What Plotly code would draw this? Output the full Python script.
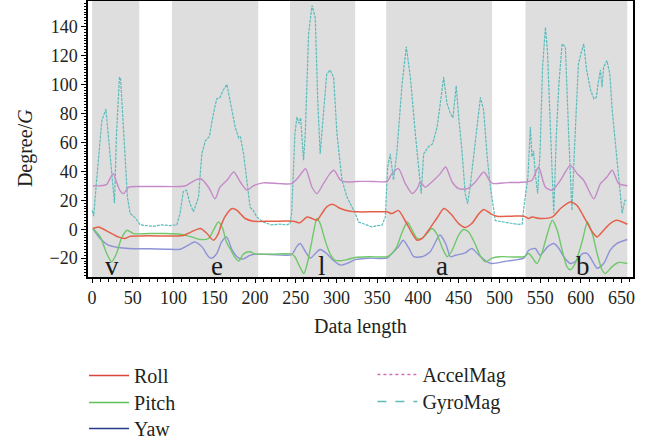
import plotly.graph_objects as go

# ---------------- data ----------------
roll_x = [1, 8, 20, 32, 40, 47, 60, 80, 100, 112, 122, 133, 141, 149, 155, 158, 163, 172, 178, 188, 198, 220, 247, 255, 264, 270, 276, 282, 288, 295, 305, 315, 325, 345, 362, 368, 376, 384, 393, 399, 405, 413, 423, 432, 440, 450, 458, 466, 475, 481, 489, 497, 515, 530, 536, 540, 550, 565, 575, 587, 595, 606, 614, 620, 628, 636, 644, 657]
roll_y = [0.5, 1.6, -1.8, -5.3, -6.4, -4.8, -4.6, -4.6, -4.6, -4.4, -1.8, 0.5, -3, -7.6, -3, 2, 8.5, 14.3, 13, 7.4, 5.5, 5.5, 5.5, 4.4, 8.5, 7.4, 6.2, 10.8, 15.4, 17.2, 14.3, 12.6, 12, 12, 12, 10.8, 13, 6.2, -3, -7.6, -6.4, -0.7, 7.4, 14.3, 10.8, 3.9, 1.2, 3.9, 10.8, 13.6, 10.8, 9, 9, 9, 7.4, 8.5, 7.4, 8.5, 14.3, 18.8, 16.5, 6.2, -1.8, -5.3, -0.7, 3.9, 6.2, 3.4]

pitch_x = [1, 10, 18, 24, 30, 36, 43, 51, 70, 90, 108, 122, 133, 143, 149, 155, 160, 165, 170, 176, 180, 186, 194, 200, 220, 245, 249, 255, 260, 264, 270, 274, 276, 280, 286, 292, 298, 305, 313, 323, 340, 362, 368, 374, 380, 387, 393, 399, 405, 411, 417, 423, 430, 436, 442, 450, 456, 462, 470, 477, 483, 491, 500, 530, 536, 541, 546, 552, 559, 565, 571, 577, 583, 587, 593, 602, 608, 614, 620, 626, 630, 638, 646, 657]
pitch_y = [0.5, -5.3, -16.8, -22.5, -16.8, -6.4, -0.7, -3, -3, -3, -3.5, -5.3, -7.1, -6.4, -0.7, 5, 1, -9, -14, -20, -22, -17, -15.6, -17, -17.2, -17.2, -19, -26, -30.6, -24, -7.6, 3.9, 7.4, 3.9, -7.6, -16.8, -21.4, -21.8, -21, -19.5, -19, -19, -16.8, -12.2, -3, 5, -0.7, -6.4, -6.4, -3, 0.5, -3, -13, -19, -14.5, -4, -0.2, -1.8, -9.9, -19, -22.5, -20, -19, -19, -16.8, -20, -23.7, -16.8, -3, 6.2, -0.7, -14.5, -26, -28, -23.7, -7.6, 5, -3, -16.8, -28, -30.6, -26, -23, -23.7]

yaw_x = [1, 10, 20, 32, 45, 70, 90, 108, 118, 126, 135, 143, 147, 153, 159, 165, 172, 180, 186, 194, 202, 220, 245, 251, 255.5, 262, 268, 274, 280, 288, 296, 305, 313, 323, 340, 362, 368, 376, 382, 389, 395, 405, 415, 427, 434, 440, 446, 458, 466, 475, 485, 491, 509, 530, 536, 544, 550, 559, 567, 573, 579, 587, 595, 602, 608, 616, 620, 628, 636, 644, 657]
yaw_y = [0.5, -6.4, -11, -12.6, -13.3, -13.5, -13.8, -13.8, -11, -8.8, -12.2, -19, -20, -16.8, -8.8, -5.3, -14.5, -20, -20.5, -18, -17.2, -17.5, -17.5, -12.2, -9.9, -15.6, -20, -16.8, -14, -16.8, -21.4, -24.8, -23.7, -21, -20, -20, -16.8, -12.2, -7.6, -13.3, -19, -19, -15.6, -4, -9.9, -19, -18, -16.3, -13.3, -18, -22.5, -23.7, -22, -20, -14.5, -13.3, -18, -12.2, -9.9, -13.3, -19, -23.7, -21.4, -16.8, -16.8, -23.7, -27, -23.7, -14.5, -9.9, -7.1]

accel_x = [1, 10, 18, 22, 26, 30, 34, 38.5, 45, 60, 80, 108, 115, 122.5, 133, 143, 151, 157, 165.5, 174, 182, 190, 198, 210, 230, 245, 253.5, 262, 270, 276, 284, 292, 297, 305, 313, 325, 345, 362, 368, 376, 384.5, 393, 399, 403, 409, 417, 427.5, 434, 442, 450, 461, 470.5, 481, 489, 493, 510, 528, 540, 548, 556.5, 565, 575, 587, 595.5, 603.5, 616, 624, 632, 638.5, 646.5, 657]
accel_y = [30, 30, 31, 35, 38.4, 32.6, 27, 24.6, 29, 29.5, 29.5, 29.5, 30, 32.6, 35, 29, 21, 29, 33.8, 39.5, 32.6, 27, 30, 32, 31.5, 31.5, 36, 41.8, 29, 24.6, 31.5, 38.4, 40.7, 33.8, 32.6, 33, 33, 33, 38.4, 41.8, 31.5, 24.6, 28, 32.6, 29, 32.6, 38.4, 43, 32.6, 28, 28, 32.6, 39.5, 32.6, 31.5, 32.2, 32.4, 33.8, 43, 29, 27, 33.8, 44, 38.4, 33.8, 21, 31.5, 36, 40.7, 31.5, 30]

gyro_x = [0, 2, 5, 8, 10, 12, 17, 22, 26, 27.5, 30, 33.6, 35, 38.5, 41, 43.4, 46.7, 52.8, 59, 65, 75, 85, 95, 104, 108, 112, 116, 120, 124.5, 130.6, 134.7, 139, 144, 149, 153, 157, 161, 165.5, 169.5, 175.7, 180, 182, 186, 190, 194, 198, 202, 210, 220, 230, 239, 243, 245, 249, 251.5, 254, 256, 259.6, 261.7, 265.8, 270, 274, 277, 280, 284, 288, 292, 296.5, 300.6, 306.7, 313, 317, 323, 327, 335, 343.6, 350, 356, 360, 362.8, 366, 370, 374, 380.5, 385.7, 390.7, 396.8, 401, 404, 407, 413, 418, 423.5, 427.5, 431.6, 435.7, 439.8, 443, 447, 450, 454, 458, 461, 464, 470.5, 476.7, 480.7, 485, 489, 492, 495, 505, 515, 522, 528, 530, 535, 538, 540, 542, 544, 547, 550, 553, 556.5, 559, 562.6, 566.7, 570, 573, 577, 581, 585, 589, 593, 597, 600, 603.5, 607, 612, 616, 619, 621, 624, 626, 628, 632, 635.6, 638.5, 642.5, 646.5, 650.7, 654, 657]
gyro_y = [13, 9, 30, 52, 61, 75, 83, 54, 29, 18, 66, 105, 104, 70, 38, 22, 11, 8, 3, 2.5, 2, 3, 2.5, 3, 11, 26, 27, 18, 12, 22, 52, 61, 64, 80, 90, 91, 96, 100, 89, 70.5, 63, 64, 52, 34, 15, 13, 8.5, 5, 3, 3.5, 3, 4, 11, 66, 77.5, 73, 77, 47.6, 66, 135, 154.5, 146, 89, 52, 77.5, 107, 110, 105, 66, 34, 22, 18, 11, 5, 3.5, 1.6, 2.5, 2.8, 8.5, 43, 52, 34, 52, 100, 126, 105, 66, 43, 24.6, 52, 57, 59, 70.5, 87, 105, 86.7, 80, 77, 99, 77.5, 54.5, 24.6, 17.7, 29, 61, 91, 82, 50, 29, 15.4, 6, 5, 4, 3.4, 3.5, 15, 36, 70.5, 50, 54, 38.5, 24.6, 54.5, 112, 139.5, 123, 70.5, 11, 66, 100, 128, 126, 66, 13, 66, 114, 121, 128, 110, 96, 90, 91, 100, 110, 98, 112, 116.5, 107, 82, 59, 34, 11, 20, 20]

band_starts = [0, 98, 243, 361, 532]
band_ends = [58, 204, 323, 491, 657]

letters = ["v", "e", "l", "a", "b"]
letter_x = [25, 153, 282, 429, 603]

x_ticks = list(range(0, 651, 50))
y_ticks = list(range(-20, 141, 20))

FONT = "Liberation Serif"
TXT = "#231f20"

fig = go.Figure()

# plotted lines (legend handled by sample entries below)
fig.add_trace(go.Scatter(x=gyro_x, y=gyro_y, mode="lines", showlegend=False,
                         line=dict(color="#5bbcbc", width=1.2, dash="3px,1px")))
fig.add_trace(go.Scatter(x=accel_x, y=accel_y, mode="lines", showlegend=False,
                         line=dict(color="#c58ac8", width=1.4, shape="spline", smoothing=0.7)))
fig.add_trace(go.Scatter(x=yaw_x, y=yaw_y, mode="lines", showlegend=False,
                         line=dict(color="#8e92d6", width=1.4, shape="spline", smoothing=0.7)))
fig.add_trace(go.Scatter(x=pitch_x, y=pitch_y, mode="lines", showlegend=False,
                         line=dict(color="#6fc86a", width=1.4, shape="spline", smoothing=0.7)))
fig.add_trace(go.Scatter(x=roll_x, y=roll_y, mode="lines", showlegend=False,
                         line=dict(color="#e5604a", width=1.5, shape="spline", smoothing=0.7)))

# legend entries, one legend box per row so rows sit where the reference has them
leg_items = [
    ("Roll", "#d9453a", "solid", "legend", -0.0073, -0.2862),
    ("Pitch", "#5cc05c", "solid", "legend2", -0.0073, -0.3841),
    ("Yaw", "#243b8c", "solid", "legend3", -0.0073, -0.4783),
    ("AccelMag", "#cf6fb0", "dot", "legend4", 0.5218, -0.2826),
    ("GyroMag", "#5bbcbc", "dash", "legend5", 0.5218, -0.3804),
]
legend_layouts = {}
for name, col, dash, lg, lx, ly in leg_items:
    fig.add_trace(go.Scatter(x=[None], y=[None], mode="lines", name=name, legend=lg,
                             line=dict(color=col, width=1.5, dash=dash)))
    legend_layouts[lg] = dict(x=lx, y=ly, xanchor="left", yanchor="top", itemwidth=40,
                              font=dict(family=FONT, size=20, color=TXT),
                              bgcolor="rgba(0,0,0,0)", tracegroupgap=0)

shapes = []
for s, e in zip(band_starts, band_ends):
    shapes.append(dict(type="rect", xref="x", yref="paper", x0=s, x1=e, y0=0, y1=1,
                       fillcolor="#dedede", line=dict(width=0), layer="below"))

annotations = []
for t, xv in zip(letters, letter_x):
    annotations.append(dict(x=xv, y=-33, xref="x", yref="y", text=t, showarrow=False,
                            yanchor="bottom", yshift=-6,
                            font=dict(family=FONT, size=27, color="#1a1a1a")))
annotations.append(dict(x=0.5, y=-0.181, xref="paper", yref="paper", text="Data length",
                        showarrow=False, yanchor="middle",
                        font=dict(family=FONT, size=20, color=TXT)))
annotations.append(dict(x=-0.1156, y=0.467, xref="paper", yref="paper", text="Degree/<i>G</i>",
                        showarrow=False, textangle=-90, xanchor="center", yanchor="middle",
                        font=dict(family=FONT, size=20, color=TXT)))

fig.update_layout(
    width=658, height=441,
    margin=dict(l=88, r=25, t=1, b=164, autoexpand=False),
    paper_bgcolor="white", plot_bgcolor="white",
    shapes=shapes, annotations=annotations,
    **legend_layouts,
)

fig.update_xaxes(range=[-5, 664], tickvals=x_ticks, ticks="outside", ticklen=4, tickwidth=1,
                 tickcolor="black",
                 minor=dict(tick0=0, dtick=10, ticks="outside", ticklen=3, tickcolor="black"),
                 showline=True, linecolor="black", linewidth=1.5, mirror=True,
                 showgrid=False, zeroline=False,
                 tickfont=dict(family=FONT, size=18, color=TXT))
fig.update_yaxes(range=[-33, 157.6], tickvals=y_ticks, ticks="outside", ticklen=5, tickwidth=1,
                 tickcolor="black",
                 minor=dict(tick0=0, dtick=2, ticks="outside", ticklen=2, tickcolor="black"),
                 showline=True, linecolor="black", linewidth=1.5, mirror=True,
                 showgrid=False, zeroline=False,
                 tickfont=dict(family=FONT, size=18, color=TXT))

fig.write_html("out.html")
